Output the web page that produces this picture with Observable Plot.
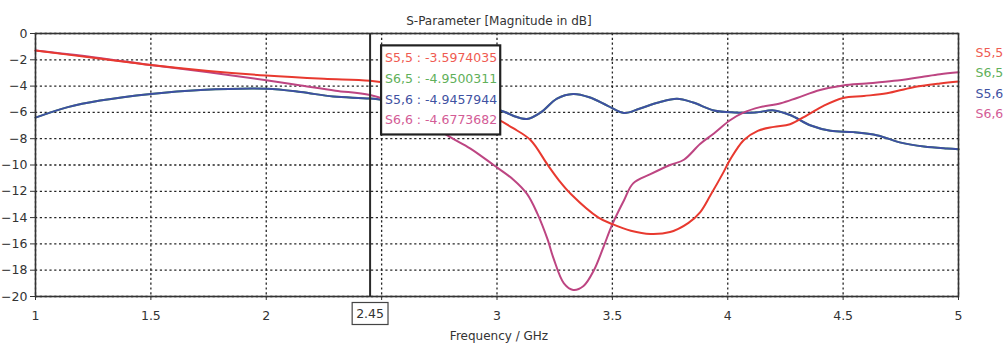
<!DOCTYPE html>
<html>
<head>
<meta charset="utf-8">
<script src="https://cdn.jsdelivr.net/npm/d3@7"></script>
<script src="https://cdn.jsdelivr.net/npm/@observablehq/plot@0.6"></script>
<style>
  html, body { margin: 0; padding: 0; background: #fff; }
  #chart { width: 1006px; height: 346px; }
</style>
</head>
<body>
<div id="chart"></div>
<script>
// ---- data ----
const chartTitle = "S-Parameter [Magnitude in dB]";
const xLabel = "Frequency / GHz";
const xTicks = [1, 1.5, 2, 2.5, 3, 3.5, 4, 4.5, 5];
const xTickHidden = [2.5]; // covered by the marker box in the reference
const yTicks = [0, -2, -4, -6, -8, -10, -12, -14, -16, -18, -20];
const markerFreq = 2.45;

const seriesNames = ["S5,5", "S6,5", "S5,6", "S6,6"];
const markerValues = ["-3.5974035", "-4.9500311", "-4.9457944", "-4.6773682"];
const lineColors = ["#e8392f", "#5aa94f", "#3d4fa3", "#bd4582"];
const labelColors = ["#ef5b52", "#5fb05a", "#3f52a2", "#d35c96"];

const freq55 = [1.0, 1.25, 1.5, 1.75, 2.0, 2.25, 2.45, 2.6, 2.75, 2.9, 3.0, 3.07, 3.145, 3.22, 3.27, 3.32, 3.44, 3.5, 3.58, 3.665, 3.75, 3.83, 3.88, 3.925, 3.98, 4.01, 4.07, 4.13, 4.2, 4.27, 4.345, 4.415, 4.5, 4.59, 4.69, 4.8, 4.92, 5.0];
const db55   = [-1.3, -1.85, -2.4, -2.85, -3.2, -3.45, -3.6, -4.0, -4.7, -5.7, -6.5, -7.2, -8.1, -10.0, -11.2, -12.2, -14.0, -14.5, -15.0, -15.25, -15.1, -14.4, -13.6, -12.3, -10.6, -9.6, -8.1, -7.4, -7.1, -6.9, -6.2, -5.5, -4.9, -4.75, -4.55, -4.1, -3.8, -3.65];

const freq56 = [1.0, 1.14, 1.28, 1.5, 1.715, 2.0, 2.15, 2.29, 2.45, 2.6, 2.8, 3.015, 3.07, 3.13, 3.19, 3.26, 3.33, 3.4, 3.48, 3.55, 3.62, 3.7, 3.78, 3.85, 3.94, 4.03, 4.12, 4.2, 4.27, 4.36, 4.445, 4.545, 4.65, 4.75, 4.85, 4.95, 5.0];
const db56   = [-6.4, -5.6, -5.1, -4.6, -4.3, -4.2, -4.45, -4.8, -4.95, -5.25, -5.55, -5.85, -6.25, -6.5, -6.0, -4.95, -4.6, -4.85, -5.5, -6.05, -5.7, -5.25, -4.97, -5.25, -5.85, -6.0, -6.0, -5.85, -6.2, -7.0, -7.4, -7.5, -7.75, -8.3, -8.6, -8.75, -8.8];

// S6,5 lies exactly under S5,6 in the picture (reciprocal network)
const freq65 = freq56;
const db65 = db56;

const freq66 = [1.0, 1.25, 1.5, 1.75, 2.0, 2.15, 2.3, 2.45, 2.6, 2.7, 2.785, 2.885, 2.985, 3.07, 3.13, 3.175, 3.22, 3.245, 3.29, 3.33, 3.375, 3.42, 3.46, 3.5, 3.55, 3.59, 3.665, 3.75, 3.81, 3.88, 3.94, 4.01, 4.07, 4.14, 4.23, 4.3, 4.4, 4.5, 4.6, 4.72, 4.84, 4.92, 5.0];
const db66   = [-1.3, -1.8, -2.4, -2.95, -3.55, -3.95, -4.35, -4.68, -5.6, -6.7, -7.75, -8.75, -10.0, -11.1, -12.2, -13.7, -15.7, -17.1, -19.0, -19.5, -19.2, -18.0, -16.3, -14.5, -12.7, -11.4, -10.7, -10.0, -9.6, -8.4, -7.6, -6.6, -6.0, -5.6, -5.3, -4.9, -4.3, -3.95, -3.8, -3.6, -3.3, -3.1, -2.95];

// ---- build table ----
const seriesData = [
  {name: seriesNames[0], f: freq55, v: db55},
  {name: seriesNames[1], f: freq65, v: db65},
  {name: seriesNames[2], f: freq56, v: db56},
  {name: seriesNames[3], f: freq66, v: db66}
];
const rows = name => {
  const s = seriesData.find(d => d.name === name);
  return s.f.map((f, i) => ({freq: f, db: s.v[i], name}));
};

const font = "DejaVu Sans, Verdana, sans-serif";
const drawOrder = [1, 2, 3, 0];
const tooltipLines = seriesNames.map((n, i) => `${n} : ${markerValues[i]}`);
const markerText = String(markerFreq);

const gridStyle = {stroke: "#1a1a1a", strokeOpacity: 0.95, strokeWidth: 1.3, strokeDasharray: "2.2,2.6"};

const marks = [
  Plot.gridX(xTicks, gridStyle),
  Plot.gridY(yTicks, gridStyle),
  Plot.axisY({ticks: yTicks, tickSize: 5, tickPadding: 3, fontSize: 12.5, label: null, color: "#333", stroke: "#333"}),
  Plot.axisX({ticks: xTicks, tickSize: 4, tickPadding: 11, fontSize: 12.5, label: null,
    tickFormat: d => xTickHidden.includes(d) ? "" : String(d), color: "#333", stroke: "#333"}),
  ...drawOrder.map(i => Plot.line(rows(seriesNames[i]), {x: "freq", y: "db", stroke: lineColors[i], strokeWidth: 2, curve: "catmull-rom"})),
  Plot.frame({stroke: "#333", strokeWidth: 1.6}),
  Plot.ruleX([markerFreq], {stroke: "#2a2a2a", strokeWidth: 2}),
  Plot.text([chartTitle], {frameAnchor: "top", dy: -17, dx: 2, fontSize: 12, fill: "#333"}),
  Plot.text([xLabel], {frameAnchor: "bottom", dy: 43, dx: 2, fontSize: 12, fill: "#333"}),
  Plot.text([markerFreq], {x: d => d, frameAnchor: "bottom", dy: 21, text: () => markerText, fontSize: 12.5, fill: "#333"}),
  ...seriesNames.map((n, i) => Plot.text([markerFreq], {
    x: d => d, frameAnchor: "top", dx: 15, dy: 20 + i * 20.7,
    text: () => tooltipLines[i], textAnchor: "start",
    fill: labelColors[i], fontSize: 12.5
  })),
  ...seriesNames.map((n, i) => Plot.text([n], {
    frameAnchor: "top-right", dx: 17, dy: 14.5 + i * 20.4, textAnchor: "start",
    fill: labelColors[i], fontSize: 12.5
  }))
];

const chart = Plot.plot({
  width: 1006,
  height: 346,
  marginLeft: 35,
  marginRight: 48,
  marginTop: 33,
  marginBottom: 50,
  x: {domain: [1, 5]},
  y: {domain: [-20, 0]},
  style: {fontFamily: font, background: "#fff", overflow: "visible"},
  marks
});
document.getElementById("chart").appendChild(chart);

// ---- boxes around the marker readout and the marker frequency label ----
function boxAround(texts, pad, stroke, strokeWidth) {
  const nodes = Array.from(chart.querySelectorAll("text")).filter(t => texts.includes(t.textContent) && !t.closest('g[aria-label="x-axis tick label"]'));
  if (!nodes.length) return;
  const svgRect = chart.getBoundingClientRect();
  let x0 = Infinity, y0 = Infinity, x1 = -Infinity, y1 = -Infinity;
  nodes.forEach(t => {
    const b = t.getBoundingClientRect();
    x0 = Math.min(x0, b.left - svgRect.left);
    y0 = Math.min(y0, b.top - svgRect.top);
    x1 = Math.max(x1, b.right - svgRect.left);
    y1 = Math.max(y1, b.bottom - svgRect.top);
  });
  const rect = document.createElementNS("http://www.w3.org/2000/svg", "rect");
  rect.setAttribute("x", x0 - pad[3]);
  rect.setAttribute("y", y0 - pad[0]);
  rect.setAttribute("width", x1 - x0 + pad[1] + pad[3]);
  rect.setAttribute("height", y1 - y0 + pad[0] + pad[2]);
  rect.setAttribute("fill", "#fff");
  rect.setAttribute("stroke", stroke);
  rect.setAttribute("stroke-width", strokeWidth);
  let g = nodes[0];
  while (g.parentNode !== chart) g = g.parentNode;
  chart.insertBefore(rect, g);
}
boxAround(tooltipLines, [5, 3, 7, 4], "#222", 2.2);
boxAround([markerText], [3, 4, 4, 4], "#444", 1.2);
</script>
</body>
</html>
